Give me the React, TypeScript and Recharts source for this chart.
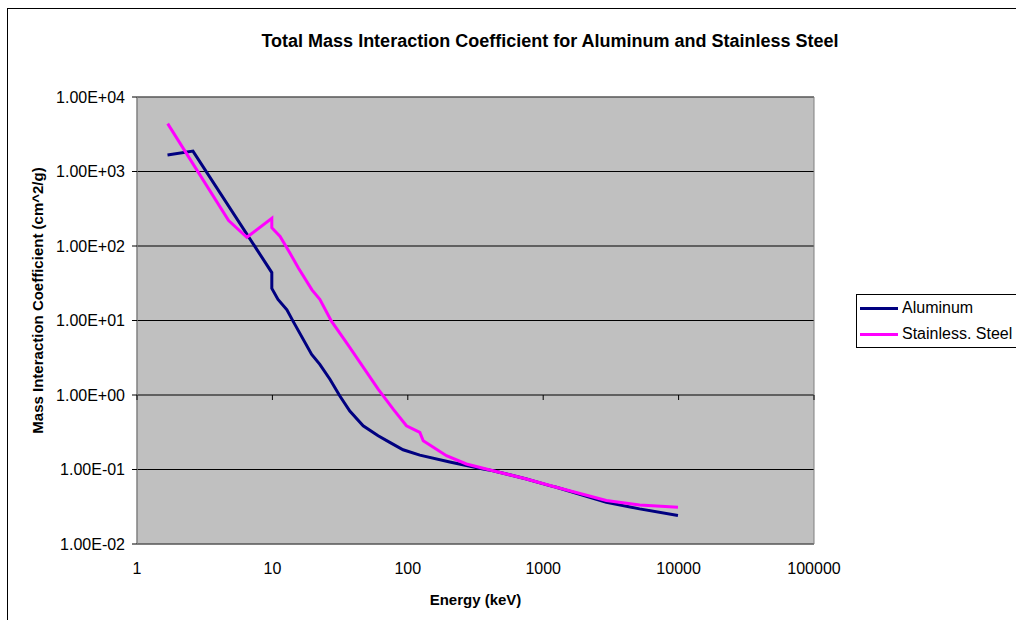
import React from 'react'
import {
  LineChart,
  Line,
  XAxis,
  YAxis,
  CartesianGrid,
  Legend,
  ReferenceArea,
  ReferenceDot,
} from 'recharts'

const FONT = '"Liberation Sans", Arial, sans-serif'

const X_TICKS = [1, 10, 100, 1000, 10000, 100000]
const Y_TICKS = [0.01, 0.1, 1, 10, 100, 1000, 10000]

// Aluminum (keV, cm^2/g)
const aluminumEnergy = [
  1.68, 2.59, 9.9, 9.9, 11.0, 12.8, 14.2, 19.5, 22.4, 26.6, 31.5, 37.3, 46.8,
  60.4, 73.6, 92.3, 122.7, 204, 360, 426, 752, 1117, 1250, 2926, 5150, 9890,
]
const aluminumMu = [
  1660, 1880, 44, 27, 19.2, 13.9, 9.8, 3.5, 2.58, 1.63, 0.97, 0.61, 0.386,
  0.284, 0.231, 0.184, 0.156, 0.126, 0.1016, 0.0964, 0.0746, 0.0607, 0.0578,
  0.0364, 0.0296, 0.0241,
]

// Stainless steel
const steelEnergy = [
  1.685, 4.75, 6.48, 9.9, 9.9, 11.4, 13.5, 15.6, 19.6, 22.4, 27.3, 36.5,
  60.4, 78, 97.7, 122.7, 130, 193, 271, 426, 752, 1250, 2926, 5150, 9890,
]
const steelMu = [
  4390, 219, 131, 235, 176, 134, 79.8, 50.3, 25.8, 19.2, 9.8, 4.6, 1.2,
  0.645, 0.386, 0.315, 0.243, 0.153, 0.1186, 0.0964, 0.0746, 0.0578, 0.0383,
  0.0335, 0.0312,
]

const toPoints = (energy: number[], mu: number[]) =>
  energy.map((e, i) => ({ e, mu: mu[i] }))

const aluminum = toPoints(aluminumEnergy, aluminumMu)
const steel = toPoints(steelEnergy, steelMu)

function sci(v: number) {
  const exp = Math.round(Math.log10(v))
  const sign = exp < 0 ? '-' : '+'
  return `1.00E${sign}${String(Math.abs(exp)).padStart(2, '0')}`
}

// small tick hanging below the x axis, which crosses at y = 1
const CrossTick = (props: any) => (
  <line x1={props.cx} y1={props.cy} x2={props.cx} y2={props.cy + 5} stroke="#000" strokeWidth={1} />
)

const YTitle = (props: any) => {
  const vb = props.viewBox
  const cx = vb.x + 30
  const cy = vb.y + vb.height / 2 - 20
  return (
    <text
      x={cx}
      y={cy}
      transform={`rotate(-90 ${cx} ${cy})`}
      textAnchor="middle"
      dominantBaseline="central"
      style={{ fontFamily: FONT, fontSize: 15, fontWeight: 700, fill: '#000' }}
    >
      Mass Interaction Coefficient (cm^2/g)
    </text>
  )
}

const LegendBox = (props: any) => (
  <div
    style={{
      border: '1px solid #000',
      background: '#fff',
      width: 300,
      fontFamily: FONT,
      fontSize: 16,
      color: '#000',
    }}
  >
    {(props.payload || []).map((p: any) => (
      <div key={p.value} style={{ display: 'flex', alignItems: 'center', height: 26 }}>
        <span
          style={{
            display: 'inline-block',
            width: 38,
            height: 3,
            background: p.color,
            marginLeft: 3,
            marginRight: 4,
          }}
        />
        <span>{p.value}</span>
      </div>
    ))}
  </div>
)

export default function App() {
  return (
    <div
      style={{
        position: 'absolute',
        left: 0,
        top: 0,
        width: 1016,
        height: 620,
        overflow: 'hidden',
        background: '#fff',
      }}
    >
      {/* outer chart border */}
      <div
        style={{
          position: 'absolute',
          left: 7,
          top: 8,
          width: 1200,
          height: 800,
          border: '1px solid #000',
        }}
      />
      <div
        style={{
          position: 'absolute',
          left: 0,
          top: 30,
          width: 1100,
          textAlign: 'center',
          fontFamily: FONT,
          fontSize: 18,
          fontWeight: 700,
          lineHeight: '22px',
        }}
      >
        Total Mass Interaction Coefficient for Aluminum and Stainless Steel
      </div>
      <div style={{ position: 'absolute', left: 0, top: 0 }}>
        <LineChart width={1016} height={620} margin={{ top: 97, right: 202, bottom: 0, left: 7 }}>
          <CartesianGrid fill="#C0C0C0" stroke="#000" vertical={false} />
          <XAxis
            dataKey="e"
            type="number"
            scale="log"
            domain={[1, 100000]}
            ticks={X_TICKS}
            allowDataOverflow
            height={76}
            axisLine={false}
            tickLine={false}
            tickSize={6}
            tickMargin={13}
            tick={{ fill: '#000', fontSize: 16, fontFamily: FONT }}
            label={{
              value: 'Energy (keV)',
              position: 'insideBottom',
              offset: 15,
              style: { fontFamily: FONT, fontSize: 15, fontWeight: 700, fill: '#000' },
            }}
          />
          <YAxis
            dataKey="mu"
            type="number"
            scale="log"
            domain={[0.01, 10000]}
            ticks={Y_TICKS}
            allowDataOverflow
            width={130}
            axisLine={{ stroke: '#808080' }}
            tickLine={{ stroke: '#000' }}
            tickSize={5}
            tickMargin={7}
            tickFormatter={sci}
            tick={{ fill: '#000', fontSize: 16, fontFamily: FONT }}
            label={YTitle}
          />
          <ReferenceArea
            x1={1}
            x2={100000}
            y1={0.01}
            y2={10000}
            fill="none"
            stroke="#808080"
            strokeWidth={1}
            ifOverflow="visible"
          />
          {X_TICKS.map((t) => (
            <ReferenceDot key={t} x={t} y={1} r={0} shape={CrossTick} ifOverflow="visible" />
          ))}
          <Legend
            layout="vertical"
            align="center"
            verticalAlign="middle"
            content={LegendBox}
            wrapperStyle={{ position: 'absolute', left: 856, top: 294, width: 300 }}
          />
          <Line
            data={aluminum}
            dataKey="mu"
            name="Aluminum"
            type="linear"
            stroke="#000080"
            strokeWidth={3}
            dot={false}
            isAnimationActive={false}
          />
          <Line
            data={steel}
            dataKey="mu"
            name="Stainless. Steel"
            type="linear"
            stroke="#FF00FF"
            strokeWidth={3}
            dot={false}
            isAnimationActive={false}
          />
        </LineChart>
      </div>
    </div>
  )
}
